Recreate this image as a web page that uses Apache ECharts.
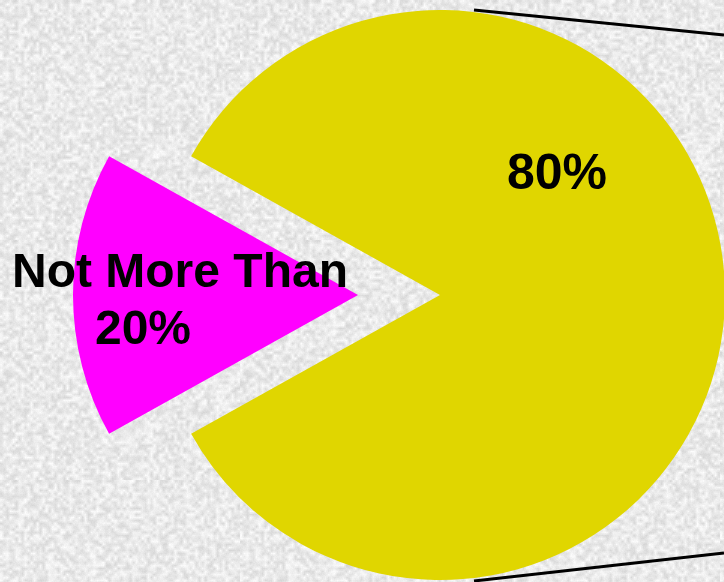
<!DOCTYPE html>
<html>
<head>
<meta charset="utf-8">
<script src="https://cdn.jsdelivr.net/npm/echarts@6/dist/echarts.min.js"></script>
<style>
html,body{margin:0;padding:0;background:#ebebeb;}
#chart{width:724px;height:582px;}
</style>
</head>
<body>
<div id="chart"></div>
<script>
// Data
const categories = ['80%', 'Not More Than 20%'];
const values = [83.8, 16.2];
const labelLines = [['80%'], ['Not More Than', '20%']];
const colors = ['#e0d600', '#ff00ff'];

// Background granite-like texture (decorative only)
function makeTexture() {
  const n = 240, m = 80;
  const small = document.createElement('canvas');
  small.width = m; small.height = m;
  const sctx = small.getContext('2d');
  const img = sctx.createImageData(m, m);
  let s = 987654321;
  for (let i = 0; i < m * m; i++) {
    s = (s * 1103515245 + 12345) >>> 0;
    const v = 216 + ((s >>> 16) % 36);
    img.data[i * 4] = v; img.data[i * 4 + 1] = v; img.data[i * 4 + 2] = v; img.data[i * 4 + 3] = 255;
  }
  sctx.putImageData(img, 0, 0);
  const c2 = document.createElement('canvas');
  c2.width = n; c2.height = n;
  const ctx2 = c2.getContext('2d');
  ctx2.fillStyle = '#ebebeb';
  ctx2.fillRect(0, 0, n, n);
  ctx2.imageSmoothingEnabled = true;
  for (let dx = -n; dx <= n; dx += n) for (let dy = -n; dy <= n; dy += n) ctx2.drawImage(small, dx, dy, n, n);
  const fine = ctx2.getImageData(0, 0, n, n);
  for (let i = 0; i < n * n; i++) {
    s = (s * 1103515245 + 12345) >>> 0;
    const d = ((s >>> 16) % 7) - 3;
    for (let k = 0; k < 3; k++) fine.data[i * 4 + k] = Math.max(0, Math.min(255, fine.data[i * 4 + k] + d));
  }
  ctx2.putImageData(fine, 0, 0);
  return c2;
}

const chart = echarts.init(document.getElementById('chart'), null, {renderer: 'canvas'});
const cx = 440, cy = 295, R = 285;
const half = values[1] / 100 * 180;

const font = 'bold 48px "Liberation Sans", Arial, sans-serif';
const fontBig = 'bold 50px "Liberation Sans", Arial, sans-serif';
chart.setOption({
  animation: false,
  backgroundColor: {image: makeTexture(), repeat: 'repeat'},
  series: [{
    type: 'pie',
    center: [cx, cy],
    radius: [0, R],
    startAngle: 180 - half,
    clockwise: true,
    selectedMode: 'single',
    selectedOffset: 82,
    silent: true,
    label: {show: false},
    labelLine: {show: false},
    emphasis: {disabled: true},
    data: categories.map((c, i) => ({
      name: c, value: values[i], selected: i === 1,
      itemStyle: {color: colors[i]}
    }))
  }],
  graphic: [
    {type: 'line', shape: {x1: 474, y1: 10, x2: 724, y2: 35}, style: {stroke: '#000', lineWidth: 3}, z: 100},
    {type: 'line', shape: {x1: 474, y1: 581, x2: 724, y2: 553}, style: {stroke: '#000', lineWidth: 3}, z: 100},
    {type: 'text', x: 557, y: 175, style: {text: labelLines[0][0], font: fontBig, fill: '#000', align: 'center', verticalAlign: 'middle'}, z: 101},
    {type: 'text', x: 180, y: 274, style: {text: labelLines[1][0], font: font, fill: '#000', align: 'center', verticalAlign: 'middle'}, z: 101},
    {type: 'text', x: 143, y: 331, style: {text: labelLines[1][1], font: font, fill: '#000', align: 'center', verticalAlign: 'middle'}, z: 101}
  ]
});
</script>
</body>
</html>
